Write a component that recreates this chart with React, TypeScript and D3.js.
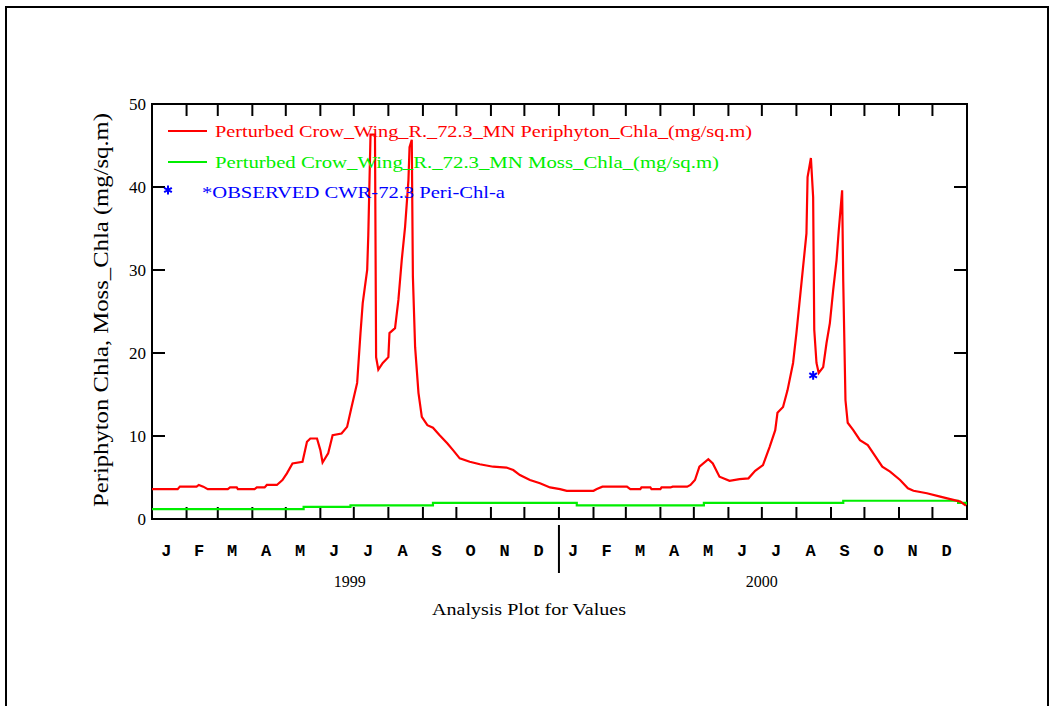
import React from 'react'
import * as d3 from 'd3'

// Periphyton chla (red)
const periDates = [
  '1999-01-01', '1999-01-24', '1999-01-26', '1999-02-10', '1999-02-12', '1999-02-16', '1999-02-20', '1999-03-10',
  '1999-03-12', '1999-03-18', '1999-03-19', '1999-04-03', '1999-04-05', '1999-04-12', '1999-04-14', '1999-04-23',
  '1999-04-28', '1999-05-02', '1999-05-07', '1999-05-16', '1999-05-20', '1999-05-23', '1999-05-29', '1999-06-01',
  '1999-06-03', '1999-06-08', '1999-06-12', '1999-06-20', '1999-06-25', '1999-06-29', '1999-07-04', '1999-07-07',
  '1999-07-09', '1999-07-13', '1999-07-14', '1999-07-16', '1999-07-20', '1999-07-21', '1999-07-23', '1999-07-27',
  '1999-08-01', '1999-08-02', '1999-08-07', '1999-08-10', '1999-08-13', '1999-08-16', '1999-08-19', '1999-08-20',
  '1999-08-22', '1999-08-23', '1999-08-25', '1999-08-28', '1999-08-31', '1999-09-05', '1999-09-10', '1999-09-16',
  '1999-09-23', '1999-09-28', '1999-10-04', '1999-10-13', '1999-10-22', '1999-11-03', '1999-11-15', '1999-11-21',
  '1999-11-27', '1999-12-06', '1999-12-15', '1999-12-24', '2000-01-02', '2000-01-08', '2000-02-01', '2000-02-04',
  '2000-02-09', '2000-03-02', '2000-03-05', '2000-03-14', '2000-03-15', '2000-03-23', '2000-03-24', '2000-04-01',
  '2000-04-02', '2000-04-10', '2000-04-12', '2000-04-25', '2000-04-28', '2000-05-02', '2000-05-06', '2000-05-14',
  '2000-05-18', '2000-05-24', '2000-06-02', '2000-06-11', '2000-06-19', '2000-06-25', '2000-07-02', '2000-07-08',
  '2000-07-13', '2000-07-15', '2000-07-20', '2000-07-24', '2000-07-29', '2000-08-01', '2000-08-04', '2000-08-07',
  '2000-08-10', '2000-08-11', '2000-08-14', '2000-08-16', '2000-08-17', '2000-08-19', '2000-08-21', '2000-08-25',
  '2000-08-28', '2000-08-31', '2000-09-03', '2000-09-06', '2000-09-08', '2000-09-11', '2000-09-12', '2000-09-14',
  '2000-09-16', '2000-09-21', '2000-09-27', '2000-10-04', '2000-10-09', '2000-10-17', '2000-10-24', '2000-11-02',
  '2000-11-09', '2000-11-14', '2000-11-26', '2000-12-08', '2000-12-17', '2000-12-26', '2000-12-31',
]
const periValues = [
  3.6, 3.6, 3.9, 3.9, 4.1, 3.9, 3.6, 3.6,
  3.8, 3.8, 3.6, 3.6, 3.8, 3.8, 4.1, 4.1,
  4.7, 5.5, 6.7, 6.9, 9.3, 9.7, 9.7, 8.3,
  6.8, 7.9, 10.1, 10.3, 11.1, 13.5, 16.4, 22.4,
  26.0, 30.0, 34.2, 46.3, 46.3, 19.5, 18.0, 18.8,
  19.5, 22.4, 23.0, 26.4, 31.2, 35.2, 40.8, 44.8,
  45.7, 29.2, 20.7, 15.2, 12.3, 11.3, 11.0, 10.1,
  9.1, 8.3, 7.3, 6.9, 6.6, 6.3, 6.2, 5.9,
  5.3, 4.7, 4.3, 3.8, 3.6, 3.4, 3.4, 3.6,
  3.9, 3.9, 3.6, 3.6, 3.8, 3.8, 3.6, 3.6,
  3.8, 3.8, 3.9, 3.9, 4.1, 4.7, 6.3, 7.2,
  6.7, 5.1, 4.6, 4.8, 4.9, 5.8, 6.5, 8.7,
  10.7, 12.8, 13.5, 15.5, 18.8, 22.4, 26.4, 30.4,
  34.4, 41.2, 43.5, 38.8, 22.8, 18.8, 17.6, 18.3,
  21.2, 23.6, 27.6, 31.2, 34.8, 39.6, 28.6, 14.3,
  11.6, 10.7, 9.5, 8.9, 7.9, 6.3, 5.7, 4.7,
  3.7, 3.4, 3.1, 2.7, 2.4, 2.1, 1.6,
]

// Moss chla (green), stepwise
const mossDates = ['1999-01-01', '1999-05-17', '1999-06-28', '1999-09-10', '2000-01-17', '2000-05-10', '2000-09-12', '2000-12-24', '2000-12-31']
const mossValues = [1.2, 1.45, 1.65, 1.95, 1.65, 1.95, 2.2, 1.95, 1.7]

// observed
const obsDates = ['2000-08-16']
const obsValues = [17.3]

const yTicks = [0, 10, 20, 30, 40, 50]
const monthLetters = ['J', 'F', 'M', 'A', 'M', 'J', 'J', 'A', 'S', 'O', 'N', 'D']
const years = ['1999', '2000']

const legendItems = [
  { label: 'Perturbed Crow_Wing_R._72.3_MN Periphyton_Chla_(mg/sq.m)', color: '#ff0000', len: 537 },
  { label: 'Perturbed Crow_Wing_R._72.3_MN Moss_Chla_(mg/sq.m)', color: '#00ee00', len: 504 },
]

const parse = d3.timeParse('%Y-%m-%d')

const App = () => {
  const left = 152, right = 967, top = 104, bottom = 519
  const x = d3.scaleTime()
    .domain([new Date(1999, 0, 1), new Date(2001, 0, 1)])
    .range([left, right])
  const y = d3.scaleLinear().domain([0, 50]).range([bottom, top])

  const peri = periDates.map((d, i) => ({ date: parse(d) as Date, v: periValues[i] }))
  const moss = mossDates.map((d, i) => ({ date: parse(d) as Date, v: mossValues[i] }))
  const obs = obsDates.map((d, i) => ({ date: parse(d) as Date, v: obsValues[i] }))

  const line = d3.line<{ date: Date, v: number }>().x(d => x(d.date)).y(d => y(d.v))
  const stepLine = d3.line<{ date: Date, v: number }>().x(d => x(d.date)).y(d => y(d.v)).curve(d3.curveStepAfter)

  // month boundaries (internal) and mid points
  const boundaries = d3.timeMonth.range(new Date(1999, 1, 1), new Date(2001, 0, 1))
  const months = d3.timeMonth.range(new Date(1999, 0, 1), new Date(2001, 0, 1))
  const divider = x(new Date(2000, 0, 1))

  const star = d3.symbol().type(d3.symbolAsterisk).size(55)()

  const serif = '"Liberation Serif", "Times New Roman", serif'
  const mono = '"Liberation Mono", "Courier New", monospace'

  return (
    <svg width={1055} height={706} style={{ position: 'absolute', left: 0, top: 0, background: '#fff' }}>
      <rect x={0} y={0} width={1055} height={706} fill="#fff" />
      <path d="M6,714 L6,7 L1048,7 L1048,714" fill="none" stroke="#000" strokeWidth={2} />

      {/* plot frame */}
      <rect x={left} y={top} width={right - left} height={bottom - top} fill="none" stroke="#000" strokeWidth={2} />

      {/* month ticks top and bottom */}
      {boundaries.map((b, i) => (
        <g key={i} stroke="#000" strokeWidth={2}>
          <line x1={x(b)} x2={x(b)} y1={top} y2={top + 12} />
          <line x1={x(b)} x2={x(b)} y1={bottom} y2={bottom - 12} />
        </g>
      ))}

      {/* y ticks left and right */}
      {yTicks.map(t => (
        <g key={t}>
          {t > 0 && t < 50 && (
            <g stroke="#000" strokeWidth={2}>
              <line x1={left} x2={left + 13} y1={y(t)} y2={y(t)} />
              <line x1={right} x2={right - 13} y1={y(t)} y2={y(t)} />
            </g>
          )}
          <text x={146} y={y(t) + 6} textAnchor="end" fontFamily={serif} fontSize={17} fill="#000">{t}</text>
        </g>
      ))}

      {/* month labels */}
      {months.map((m, i) => {
        const mid = (x(m) + x(d3.timeMonth.offset(m, 1))) / 2
        return (
          <text key={i} x={mid - 3} y={556} textAnchor="middle" fontFamily={mono} fontWeight="bold" fontSize={17} fill="#000">
            {monthLetters[m.getMonth()]}
          </text>
        )
      })}

      <line x1={divider} x2={divider} y1={525} y2={573} stroke="#000" strokeWidth={2} />

      {years.map((yr, i) => (
        <text key={yr} x={x(new Date(+yr, 6, 1)) + (i === 0 ? -4 : 0)} y={587} textAnchor="middle" fontFamily={serif} fontSize={16} fill="#000">{yr}</text>
      ))}

      <text x={529} y={615} textAnchor="middle" fontFamily={serif} fontSize={17} textLength={194} lengthAdjust="spacingAndGlyphs" fill="#000">
        Analysis Plot for Values
      </text>

      <text transform="translate(108,310) rotate(-90)" textAnchor="middle" fontFamily={serif} fontSize={20} textLength={394} lengthAdjust="spacingAndGlyphs" fill="#000">
        Periphyton Chla, Moss_Chla (mg/sq.m)
      </text>

      {/* series */}
      <path d={stepLine(moss) || ''} fill="none" stroke="#00ee00" strokeWidth={2.2} />
      <path d={line(peri) || ''} fill="none" stroke="#ff0000" strokeWidth={2.2} />
      {obs.map((o, i) => (
        <path key={i} d={star || ''} transform={`translate(${x(o.date)},${y(o.v)})`} fill="none" stroke="#0000ff" strokeWidth={2} />
      ))}

      {/* legend */}
      {legendItems.map((item, i) => (
        <g key={i}>
          <line x1={168} x2={207} y1={131 + i * 31} y2={131 + i * 31} stroke={item.color} strokeWidth={2} />
          <text x={215} y={137 + i * 31} fontFamily={serif} fontSize={16} textLength={item.len} lengthAdjust="spacingAndGlyphs" fill={item.color}>
            {item.label}
          </text>
        </g>
      ))}
      <path d={star || ''} transform="translate(168,190)" fill="none" stroke="#0000ff" strokeWidth={2} />
      <text x={202} y={198} fontFamily={serif} fontSize={16} textLength={303} lengthAdjust="spacingAndGlyphs" fill="#0000ff">
        *OBSERVED CWR-72.3 Peri-Chl-a
      </text>
    </svg>
  )
}

export default App
